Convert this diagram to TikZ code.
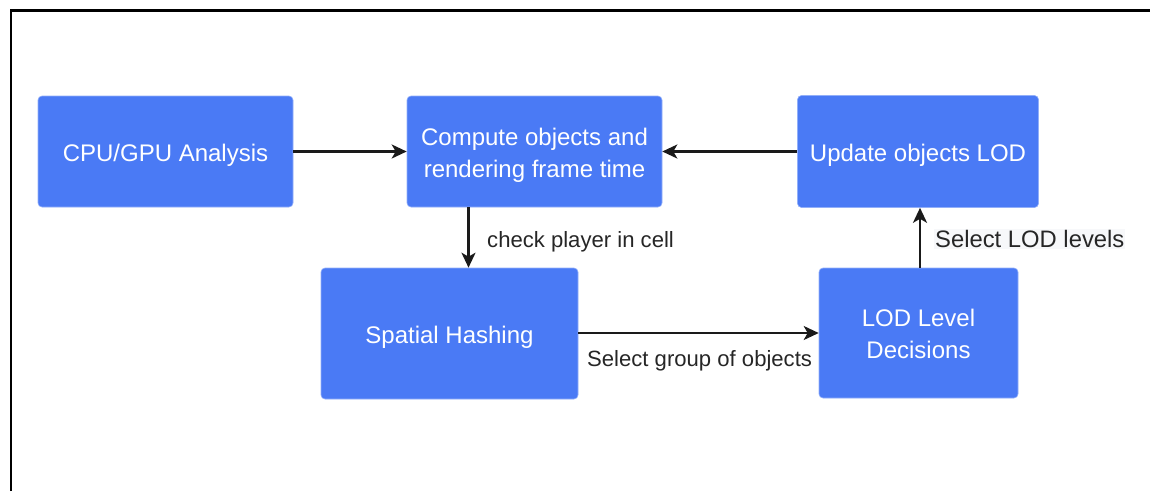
\documentclass[tikz,border=0pt]{standalone}
\usepackage{fontspec}
\setmainfont{Liberation Sans}
\usetikzlibrary{arrows.meta,calc}
\definecolor{boxblue}{HTML}{4A7AF5}
\definecolor{linedark}{HTML}{1A1A1A}
\definecolor{labelbg}{HTML}{F7F8FA}
\newcommand{\lowered}[1]{\raisebox{-3.5pt}[\height][\depth]{#1}}
\tikzset{
  stage/.style={draw=boxblue!60, line width=0.6pt, fill=boxblue, rounded corners=4pt,
    text=white, align=center, inner sep=0pt,
    font=\fontsize{24}{32}\selectfont},
  flow/.style={draw=linedark, line width=2.3pt,
    -{Stealth[length=15pt,width=14pt,inset=4pt]}},
  tag/.style={anchor=west, inner sep=1pt, text=black!85,
    font=\fontsize{22.1}{26}\selectfont},
}
\begin{document}
\begin{tikzpicture}[x=1pt,y=-1pt]
  \useasboundingbox (0,0) rectangle (1150,491);
  % open frame: top and left edges
  \draw[line width=2.2pt] (11,491) -- (11,10.5) -- (1150,10.5);

  \node[stage, minimum width=255pt, minimum height=111pt] (cpu)  at (165.5,151.5) {\lowered{CPU/GPU Analysis}};
  \node[stage, minimum width=255pt, minimum height=111pt] (comp) at (534.5,151.5) {\lowered{\begin{tabular}{@{}c@{}}Compute objects and\\rendering frame time\end{tabular}}};
  \node[stage, minimum width=241pt, minimum height=112pt] (upd)  at (918,151.5) {\lowered{Update objects LOD}};
  \node[stage, minimum width=257pt, minimum height=131pt] (sp)   at (449.5,333.5) {\lowered{Spatial Hashing}};
  \node[stage, minimum width=199pt, minimum height=130pt] (lod)  at (918.5,333) {\lowered{\begin{tabular}{@{}c@{}}LOD Level\\Decisions\end{tabular}}};

  \draw[flow] (cpu.east) -- (comp.west);
  \draw[flow] (upd.west) -- (comp.east);
  \draw[flow] ([xshift=-66pt]comp.south) -- ([xshift=-66pt]comp.south |- sp.north);
  \draw[flow] ([yshift=0.5pt]sp.east) -- ([yshift=0.5pt]sp.east -| lod.west);
  \draw[flow] ([xshift=1.5pt]lod.north) -- ([xshift=1.5pt]lod.north |- upd.south);

  \node[tag] (t1) at (486,242) {check player in cell};
  \node[tag] (t2) at (586,361) {Select group of objects};
  \node[tag, fill=labelbg, font=\fontsize{23.8}{26}\selectfont] (t3) at (934,239) {Select LOD levels};
\end{tikzpicture}
\end{document}
